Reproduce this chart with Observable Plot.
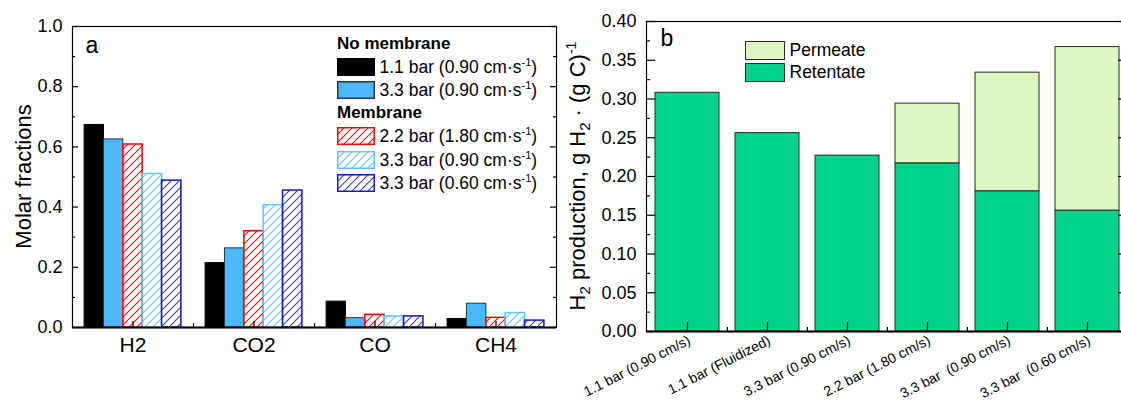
<!DOCTYPE html>
<html>
<head>
<meta charset="utf-8">
<script src="https://cdn.jsdelivr.net/npm/d3@7"></script>
<script src="https://cdn.jsdelivr.net/npm/@observablehq/plot@0.6"></script>
<style>
html, body { margin: 0; padding: 0; background: #fff; overflow: hidden; }
#wrap { position: relative; width: 1121px; height: 401px; overflow: hidden; font-family: "Liberation Sans", Arial, sans-serif; color: #000; }
#pa { position: absolute; left: 0; top: 0; width: 560px; height: 401px; }
#pb { position: absolute; left: 560px; top: 0; width: 570px; height: 401px; }
#wrap svg { max-width: none; }
.row { position: absolute; display: flex; align-items: center; white-space: nowrap; font-size: 17.5px; line-height: 18px; }
.hdr { position: absolute; white-space: nowrap; font-size: 17px; line-height: 17px; font-weight: bold; }
.row sup { font-size: 11px; vertical-align: 7px; line-height: 0; }
</style>
</head>
<body>
<div id="wrap"><div id="pa"></div><div id="pb"></div></div>
<script>
// ---------- Panel a data ----------
const gases = ["H2", "CO2", "CO", "CH4"];
const seriesA = ["No membrane 1.1 bar 0.90", "No membrane 3.3 bar 0.90", "Membrane 2.2 bar 1.80", "Membrane 3.3 bar 0.90", "Membrane 3.3 bar 0.60"];
const groupA = ["No membrane", "No membrane", "Membrane", "Membrane", "Membrane"];
const pressureA = ["1.1", "3.3", "2.2", "3.3", "3.3"];
const velocityA = ["0.90", "0.90", "1.80", "0.90", "0.60"];
const h2  = [0.673, 0.625, 0.608, 0.510, 0.488];
const co2 = [0.214, 0.263, 0.320, 0.406, 0.455];
const co  = [0.086, 0.031, 0.042, 0.037, 0.037];
const ch4 = [0.028, 0.079, 0.032, 0.048, 0.023];
const yTicksA = [0, 0.2, 0.4, 0.6, 0.8, 1.0];
const yMinorA = [0.1, 0.3, 0.5, 0.7, 0.9];

// ---------- Panel b data ----------
const catsB = ["1.1 bar (0.90 cm/s)", "1.1 bar (Fluidized)", "3.3 bar (0.90 cm/s)", "2.2 bar (1.80 cm/s)", "3.3 bar\u00a0 (0.90 cm/s)", "3.3 bar\u00a0 (0.60 cm/s)"];
const partsB = ["Permeate", "Retentate"];
const retentate = [0.308, 0.256, 0.227, 0.217, 0.181, 0.156];
const permeate  = [0, 0, 0, 0.077, 0.153, 0.211];
const yTicksB = [0, 0.05, 0.10, 0.15, 0.20, 0.25, 0.30, 0.35, 0.40];
const yMinorB = [0.025, 0.075, 0.125, 0.175, 0.225, 0.275, 0.325, 0.375];

// ---------- styles ----------
const FONT = '"Liberation Sans", Arial, sans-serif';
const strokeA = ["#000000", "#333333", "#ff0000", "#5ec4ff", "#1414c8"];
const hatchA = [null, null, "#ff0000", "#5ec4ff", "#3a3ad2"];
const solidA = ["#000000", "#4db8ff", null, null, null];
const strokeWA = [1, 1, 1.5, 1.5, 1.5];
const colorB = ["#def6c0", "#00d18b"];

// add hatch pattern definitions into a given svg, return fill list
function addPatterns(svgSel, prefix) {
  const defs = svgSel.insert("defs", ":first-child");
  return hatchA.map((c, i) => {
    if (!c) return solidA[i];
    const id = `${prefix}-hatch-${i}`;
    const p = defs.append("pattern").attr("id", id)
      .attr("patternUnits", "userSpaceOnUse").attr("width", 8).attr("height", 8);
    p.append("path").attr("d", "M0,8 L8,0 M-2,2 L2,-2 M6,10 L10,6")
      .attr("fill", "none").attr("stroke", c).attr("stroke-width", 1.1);
    return `url(#${id})`;
  });
}

// ---------- Panel a ----------
const WA = 560, HA = 401, mA = {l: 72, r: 4, t: 26, b: 74};
const fwA = WA - mA.l - mA.r, fhA = HA - mA.t - mA.b;
const valuesA = [h2, co2, co, ch4];
const tableA = gases.flatMap((g, gi) => seriesA.map((s, si) => ({
  gas: g, series: s, si, value: valuesA[gi][si],
  x1: gi - 0.4 + si * 0.16, x2: gi - 0.4 + (si + 1) * 0.16
})));
const centersA = gases.map((g, i) => i);
const boundsA = gases.slice(1).map((g, i) => i + 0.5);

const plotA = Plot.plot({
  width: WA, height: HA,
  marginLeft: mA.l, marginRight: mA.r, marginTop: mA.t, marginBottom: mA.b,
  x: {domain: [-0.5, 3.5]},
  y: {domain: [0, 1]},
  style: {fontFamily: FONT, fontSize: "18px", color: "#000", background: "transparent"},
  marks: [
    ...seriesA.map((s, si) => Plot.rect(tableA.filter(d => d.si === si), {
      x1: "x1", x2: "x2", y1: d => 0, y2: "value",
      fill: solidA[si] || "#ffffff", stroke: strokeA[si], strokeWidth: strokeWA[si],
      className: `series-${si}`
    })),
    Plot.frame({stroke: "#000", strokeWidth: 1.2}),
    Plot.ruleY([0], {stroke: "#000", strokeWidth: 2}),
    Plot.ruleY(yTicksA, {insetRight: fwA - 6, stroke: "#000", strokeWidth: 1.2}),
    Plot.ruleY(yMinorA, {insetRight: fwA - 3, stroke: "#000", strokeWidth: 1.2}),
    Plot.ruleY(yTicksA, {insetLeft: fwA - 6, stroke: "#000", strokeWidth: 1.2}),
    Plot.ruleY(yMinorA, {insetLeft: fwA - 3, stroke: "#000", strokeWidth: 1.2}),
    Plot.ruleX(centersA, {insetTop: fhA - 6, stroke: "#000", strokeWidth: 1.2}),
    Plot.ruleX(boundsA, {insetTop: fhA - 4, stroke: "#000", strokeWidth: 1.2}),
    Plot.axisY({ticks: yTicksA, tickFormat: d3.format(".1f"), tickSize: 0, tickPadding: 10, fontSize: 18, label: null}),
    Plot.axisX({ticks: centersA, tickFormat: i => gases[i], tickSize: 0, tickPadding: 10, fontSize: 21, label: null}),
    Plot.text(["a"], {text: d => d, frameAnchor: "top-left", dx: 13, dy: 26.5, lineAnchor: "bottom", textAnchor: "start", fontSize: 23})
  ]
});
const svgA = d3.select(plotA);
const fillA = addPatterns(svgA, "pa");
seriesA.forEach((s, si) => {
  svgA.selectAll(`g.series-${si}`).attr("fill", fillA[si]).selectAll("rect").attr("fill", fillA[si]);
});
svgA.append("text")
  .attr("transform", "translate(30.5,176.5) rotate(-90)")
  .attr("text-anchor", "middle").attr("font-size", 22).attr("fill", "#000")
  .text("Molar fractions");
document.getElementById("pa").appendChild(plotA);

// ---------- Panel b ----------
const WB = 570, HB = 401, mB = {l: 86, r: 3, t: 21, b: 70};
const fwB = WB - mB.l - mB.r, fhB = HB - mB.t - mB.b;
const stepB = fwB / catsB.length;
const tableB = catsB.flatMap((c, i) => [
  {cat: c, part: "Retentate", value: retentate[i]},
  {cat: c, part: "Permeate", value: permeate[i]}
]).filter(d => d.value > 0);

const plotB = Plot.plot({
  width: WB, height: HB,
  marginLeft: mB.l, marginRight: mB.r, marginTop: mB.t, marginBottom: mB.b,
  x: {domain: catsB, paddingInner: 0.2, paddingOuter: 0.1},
  y: {domain: [0, 0.4]},
  color: {domain: partsB, range: colorB},
  style: {fontFamily: FONT, fontSize: "18px", color: "#000", background: "transparent"},
  marks: [
    Plot.barY(tableB, {x: "cat", y: "value", fill: "part", stroke: "#2a2a2a", strokeWidth: 1}),
    Plot.frame({stroke: "#000", strokeWidth: 1.2}),
    Plot.ruleY([0], {stroke: "#000", strokeWidth: 2}),
    Plot.ruleY(yTicksB, {insetRight: fwB - 9, stroke: "#000", strokeWidth: 1.2}),
    Plot.ruleY(yMinorB, {insetRight: fwB - 4, stroke: "#000", strokeWidth: 1.2}),
    Plot.ruleY(yTicksB, {insetLeft: fwB - 9, stroke: "#000", strokeWidth: 1.2}),
    Plot.ruleY(yMinorB, {insetLeft: fwB - 4, stroke: "#000", strokeWidth: 1.2}),
    Plot.ruleX(catsB, {insetTop: fhB - 9, stroke: "#000", strokeWidth: 1.2}),
    Plot.ruleX(catsB.slice(1), {insetTop: fhB - 4, dx: -stepB / 2, stroke: "#000", strokeWidth: 1.2}),
    Plot.axisY({ticks: yTicksB, tickFormat: d3.format(".2f"), tickSize: 0, tickPadding: 10, fontSize: 18, label: null}),
    Plot.axisX({tickSize: 0, tickRotate: -27, textAnchor: "end", lineAnchor: "bottom", tickPadding: 12, dx: 4, fontSize: 14, label: null}),
    Plot.text(["b"], {text: d => d, frameAnchor: "top-left", dx: 14, dy: 24.5, lineAnchor: "bottom", textAnchor: "start", fontSize: 23})
  ]
});
const yl = d3.select(plotB).append("text")
  .attr("transform", "translate(25,176) rotate(-90)")
  .attr("text-anchor", "middle").attr("font-size", 22).attr("fill", "#000");
yl.append("tspan").text("H");
yl.append("tspan").attr("font-size", 15).attr("dy", 5).text("2");
yl.append("tspan").attr("dy", -5).text(" production, g H");
yl.append("tspan").attr("font-size", 15).attr("dy", 5).text("2");
yl.append("tspan").attr("dy", -5).text(" \u00b7 (g C)");
yl.append("tspan").attr("font-size", 14).attr("dy", -9).text("-1");
document.getElementById("pb").appendChild(plotB);

// ---------- Legends (HTML overlays) ----------
const wrap = document.getElementById("wrap");
const hdrCenters = {"No membrane": 43.5, "Membrane": 112.8};
const rowCentersA = [67, 90.3, 136, 160, 183];
Object.entries(hdrCenters).forEach(([t, c]) => {
  const d = document.createElement("div");
  d.className = "hdr";
  d.style.left = "337px"; d.style.top = (c - 8.5) + "px";
  d.textContent = t;
  wrap.appendChild(d);
});
seriesA.forEach((s, i) => {
  const d = document.createElement("div");
  d.className = "row";
  d.style.left = "337px"; d.style.top = (rowCentersA[i] - 9) + "px";
  d.innerHTML = `<svg width="38" height="18" style="margin-right:4.5px"><rect class="sw" x="0.75" y="0.75" width="36.5" height="16.5" fill="#fff" stroke="${strokeA[i]}" stroke-width="1.5"/></svg><span>${pressureA[i]} bar (${velocityA[i]} cm·s<sup>-1</sup>)</span>`;
  const sw = d3.select(d).select("svg");
  const fills = addPatterns(sw, `leg${i}`);
  sw.select("rect.sw").attr("fill", fills[i]);
  wrap.appendChild(d);
});
const rowCentersB = [50.5, 72.2];
partsB.forEach((p, i) => {
  const d = document.createElement("div");
  d.className = "row";
  d.style.left = "744.5px"; d.style.top = (rowCentersB[i] - 9.5) + "px";
  d.style.lineHeight = "19px";
  d.innerHTML = `<svg width="40" height="19" style="margin-right:5px"><rect x="0.5" y="0.5" width="39" height="18" fill="${colorB[i]}" stroke="#2a2a2a" stroke-width="1"/></svg><span>${p}</span>`;
  wrap.appendChild(d);
});
</script>
</body>
</html>
